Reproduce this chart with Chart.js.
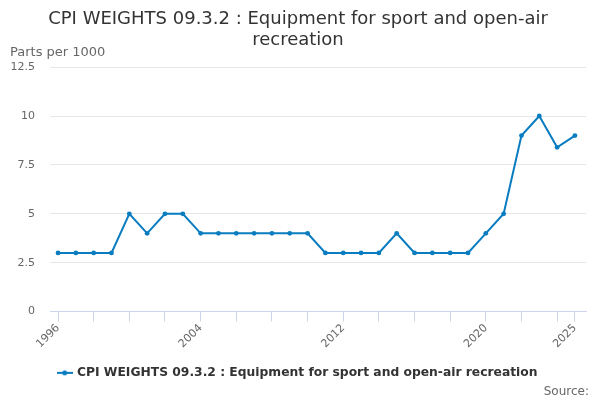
<!DOCTYPE html>
<html>
<head>
<meta charset="utf-8">
<script src="https://cdn.jsdelivr.net/npm/chart.js@4/dist/chart.umd.min.js"></script>
<style>
  html, body { margin: 0; padding: 0; background: #fff; }
  #wrap { width: 600px; height: 400px; position: relative; }
</style>
</head>
<body>
<div id="wrap"><canvas id="chart"></canvas></div>
<script>
const years = [1996, 1997, 1998, 1999, 2000, 2001, 2002, 2003, 2004, 2005,
    2006, 2007, 2008, 2009, 2010, 2011, 2012, 2013, 2014, 2015,
    2016, 2017, 2018, 2019, 2020, 2021, 2022, 2023, 2024, 2025];
const weights = [3, 3, 3, 3, 5, 4, 5, 5, 4, 4,
    4, 4, 4, 4, 4, 3, 3, 3, 3, 4,
    3, 3, 3, 3, 4, 5, 9, 10, 8.4, 9];
const tickYears = [1996, 1998, 2000, 2002, 2004, 2006, 2008, 2010, 2012, 2014,
    2016, 2018, 2020, 2022, 2024, 2025];
const labelYears = [1996, 2004, 2012, 2020, 2025];
const yTicks = [0, 2.5, 5, 7.5, 10, 12.5];

const seriesName = 'CPI WEIGHTS 09.3.2 : Equipment for sport and open-air recreation';
const font = '"DejaVu Sans", "Noto Sans", sans-serif';
const lineColor = '#0a7cc0';

// legend symbol: short line with a dot in the middle
function legendSymbol() {
    const c = document.createElement('canvas');
    c.width = 16;
    c.height = 8;
    const ctx = c.getContext('2d');
    ctx.strokeStyle = lineColor;
    ctx.lineWidth = 2;
    ctx.beginPath();
    ctx.moveTo(0, 4);
    ctx.lineTo(16, 4);
    ctx.stroke();
    ctx.fillStyle = lineColor;
    ctx.beginPath();
    ctx.arc(8, 4, 2.5, 0, Math.PI * 2);
    ctx.fill();
    return c;
}

const extras = {
    id: 'extras',
    afterDraw(chart) {
        const { ctx, chartArea } = chart;
        ctx.save();
        ctx.fillStyle = '#666';
        ctx.font = `13px ${font}`;
        ctx.textAlign = 'left';
        ctx.textBaseline = 'alphabetic';
        ctx.fillText('Parts per 1000', 10, chartArea.top - 11);
        ctx.font = `12px ${font}`;
        ctx.textAlign = 'right';
        ctx.fillText('Source:', 589, 395);
        ctx.restore();
    },
};

new Chart(document.getElementById('chart'), {
    type: 'line',
    data: {
        datasets: [{
            label: seriesName,
            data: years.map((y, i) => ({ x: y, y: weights[i] })),
            borderColor: lineColor,
            backgroundColor: lineColor,
            borderWidth: 2,
            pointRadius: 2.4,
            pointBorderWidth: 0,
            pointHoverRadius: 4,
            tension: 0,
        }],
    },
    options: {
        responsive: true,
        maintainAspectRatio: false,
        animation: false,
        layout: { padding: { left: 10, right: 14, top: 4, bottom: 11 } },
        plugins: {
            title: {
                display: true,
                text: ['CPI WEIGHTS 09.3.2 : Equipment for sport and open-air', 'recreation'],
                color: '#333',
                font: { family: font, size: 18, weight: 'normal', lineHeight: 1.17 },
                padding: { top: 5, bottom: 16 },
            },
            legend: {
                display: true,
                position: 'bottom',
                labels: {
                    color: '#333',
                    font: { family: font, size: 12.3, weight: 'bold' },
                    usePointStyle: true,
                    generateLabels: (chart) => chart.data.datasets.map((ds, i) => ({
                        text: ds.label,
                        fontColor: '#333',
                        pointStyle: legendSymbol(),
                        datasetIndex: i,
                        hidden: false,
                    })),
                    padding: 16,
                },
            },
            tooltip: { enabled: true },
        },
        scales: {
            x: {
                type: 'linear',
                min: 1995.55,
                max: 2025.62,
                afterBuildTicks: (scale) => {
                    scale.ticks = tickYears.map((v) => ({ value: v }));
                },
                afterFit: (scale) => {
                    // rotated first label may hang into the y axis area
                    scale.paddingLeft = 0;
                },
                grid: {
                    display: true,
                    drawOnChartArea: false,
                    tickLength: 10,
                    tickColor: '#ccd6eb',
                },
                border: { color: '#ccd6eb', width: 1 },
                ticks: {
                    autoSkip: false,
                    minRotation: 45,
                    maxRotation: 45,
                    color: '#666',
                    font: { family: font, size: 11 },
                    padding: 0,
                    callback: (v) => (labelYears.includes(v) ? String(v) : ''),
                },
            },
            y: {
                min: 0,
                max: 12.5,
                afterBuildTicks: (scale) => {
                    scale.ticks = yTicks.map((v) => ({ value: v }));
                },
                afterFit: (scale) => {
                    scale.width = 40;
                },
                grid: { color: '#e6e6e6', drawTicks: false },
                border: { display: false },
                ticks: {
                    color: '#666',
                    font: { family: font, size: 11 },
                    padding: 15,
                },
            },
        },
    },
    plugins: [extras],
});
</script>
</body>
</html>
